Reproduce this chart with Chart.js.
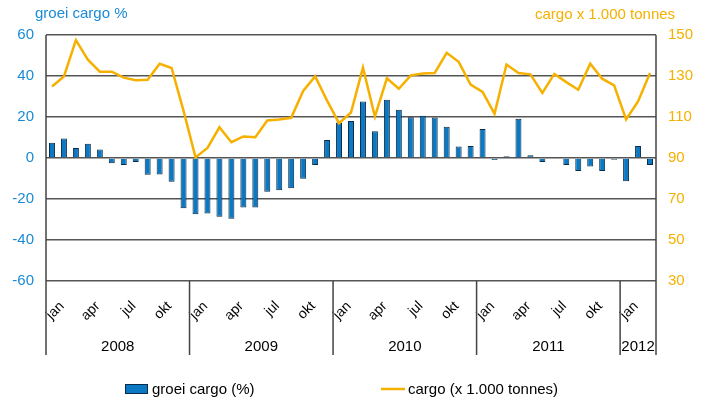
<!DOCTYPE html>
<html>
<head>
<meta charset="utf-8">
<script src="https://cdn.jsdelivr.net/npm/chart.js@4"></script>
<style>
    html, body { margin: 0; padding: 0; background: #fff; }
    #wrap { width: 711px; height: 405px; }
</style>
</head>
<body>
<div id="wrap"><canvas id="cargoChart" width="711" height="405"></canvas></div>
<script>
const years = ['2008', '2009', '2010', '2011', '2012'];
const monthNames = ['jan', 'feb', 'mrt', 'apr', 'mei', 'jun', 'jul', 'aug', 'sep', 'okt', 'nov', 'dec'];
const monthsShown = ['jan', 'apr', 'jul', 'okt'];

// groei cargo (%), jan 2008 - mrt 2012
const growth = [
    7.5, 9.5, 4.9, 6.9, 4.2, -2.6, -3.4, -2.0, -8.2, -8.0, -11.6, -24.5,
    -27.4, -27.1, -28.7, -29.6, -24.2, -24.2, -16.5, -15.7, -14.7, -10.1, -3.4, 8.8,
    17.3, 18.1, 27.6, 13.1, 28.4, 23.5, 19.9, 20.6, 19.8, 15.2, 5.6, 5.9,
    14.2, -1.0, 0.8, 19.1, 1.3, -2.0, 0.3, -3.4, -6.4, -4.1, -6.4, -0.8,
    -11.3, 5.9, -3.4,
];

// cargo (x 1.000 tonnes)
const cargo = [
    124.9, 129.8, 147.5, 138, 132.1, 132.1, 129.2, 127.9, 128.2, 136, 133.9, 113,
    90.3, 94.9, 105, 97.7, 100.5, 100.1, 108.3, 108.8, 109.6, 122.7, 129.8, 118,
    107, 112.2, 134.1, 110.2, 128.9, 123.8, 130.3, 131.2, 131.5, 141.3, 136.9, 125.8,
    122.2, 111.6, 135.6, 131.5, 130.8, 121.8, 131, 127, 123.3, 136, 128.7, 125.4,
    108.8, 117.6, 131.5,
];

const labels = growth.map((v, i) => monthNames[i % 12] + ' ' + years[Math.floor(i / 12)]);

const blue = '#1a8ad4';
const orange = '#f5b000';
const font = 'Liberation Sans';

// year separators, year labels, axis titles and legend
const extras = {
    id: 'extras',
    afterDraw(chart) {
        const ctx = chart.ctx;
        const area = chart.chartArea;
        const x = chart.scales.x;
        const step = x.getPixelForValue(1) - x.getPixelForValue(0);
        const edge = (i) => x.getPixelForValue(i) - step / 2;
        const lineBottom = 355;

        ctx.save();
        ctx.strokeStyle = '#444';
        ctx.lineWidth = 1.5;
        ctx.beginPath();
        ctx.moveTo(area.left, area.top);
        ctx.lineTo(area.left, lineBottom);
        ctx.moveTo(area.right, area.top);
        ctx.lineTo(area.right, lineBottom);
        for (let y = 1; y < years.length; y++) {
            ctx.moveTo(edge(y * 12), area.bottom);
            ctx.lineTo(edge(y * 12), lineBottom);
        }
        ctx.stroke();

        ctx.fillStyle = '#000';
        ctx.font = '15px "' + font + '"';
        ctx.textAlign = 'center';
        ctx.textBaseline = 'middle';
        years.forEach((yr, y) => {
            const start = edge(y * 12);
            const end = Math.min(edge((y + 1) * 12), area.right);
            ctx.fillText(yr, (start + end) / 2, 347);
        });

        ctx.textAlign = 'left';
        ctx.fillStyle = blue;
        ctx.fillText('groei cargo %', 35, 14);
        ctx.fillStyle = orange;
        ctx.fillText('cargo x 1.000 tonnes', 535, 15);

        // legend
        ctx.fillStyle = '#0a78c2';
        ctx.strokeStyle = '#0b2a45';
        ctx.lineWidth = 1;
        ctx.fillRect(125, 384, 22, 9);
        ctx.strokeRect(125.5, 384.5, 22, 9);
        ctx.fillStyle = '#000';
        ctx.fillText('groei cargo (%)', 152, 390);
        ctx.strokeStyle = orange;
        ctx.lineWidth = 2.5;
        ctx.beginPath();
        ctx.moveTo(381, 389);
        ctx.lineTo(405, 389);
        ctx.stroke();
        ctx.fillText('cargo (x 1.000 tonnes)', 408, 390);
        ctx.restore();
    },
};

const config = {
    data: {
        labels,
        datasets: [{
            type: 'line',
            label: 'cargo (x 1.000 tonnes)',
            data: cargo,
            yAxisID: 'y1',
            borderColor: orange,
            borderWidth: 2.5,
            pointRadius: 0,
            tension: 0,
            order: 1,
        }, {
            type: 'bar',
            label: 'groei cargo (%)',
            data: growth,
            yAxisID: 'y',
            backgroundColor: '#0a78c2',
            borderColor: '#0b2a45',
            borderWidth: 1,
            barPercentage: 0.5,
            categoryPercentage: 1,
            order: 2,
        }],
    },
    plugins: [extras],
    options: {
        responsive: false,
        animation: false,
        layout: { padding: { top: 35, bottom: 0, left: 0, right: 0 } },
        plugins: {
            legend: { display: false },
            tooltip: { enabled: false },
        },
        scales: {
            x: {
                grid: { display: false },
                border: { display: false },
                afterFit: (scale) => { scale.height = 124; },
                ticks: {
                    autoSkip: false,
                    maxRotation: 45,
                    minRotation: 45,
                    labelOffset: 10,
                    padding: 9,
                    color: '#000',
                    font: { family: font, size: 14 },
                    callback: (v, i) => {
                        const m = monthNames[i % 12];
                        return monthsShown.includes(m) ? m : '';
                    },
                },
            },
            y: {
                position: 'left',
                min: -60,
                max: 60,
                afterFit: (scale) => { scale.width = 46; },
                grid: { color: '#555', lineWidth: 1.5, drawTicks: false },
                border: { display: false },
                ticks: {
                    stepSize: 20,
                    padding: 12,
                    color: blue,
                    font: { family: font, size: 15 },
                },
            },
            y1: {
                position: 'right',
                min: 30,
                max: 150,
                afterFit: (scale) => { scale.width = 55; },
                grid: { display: false, drawTicks: false },
                border: { display: false },
                ticks: {
                    stepSize: 20,
                    padding: 12,
                    color: orange,
                    font: { family: font, size: 15 },
                },
            },
        },
    },
};

new Chart(document.getElementById('cargoChart'), config);
</script>
</body>
</html>
